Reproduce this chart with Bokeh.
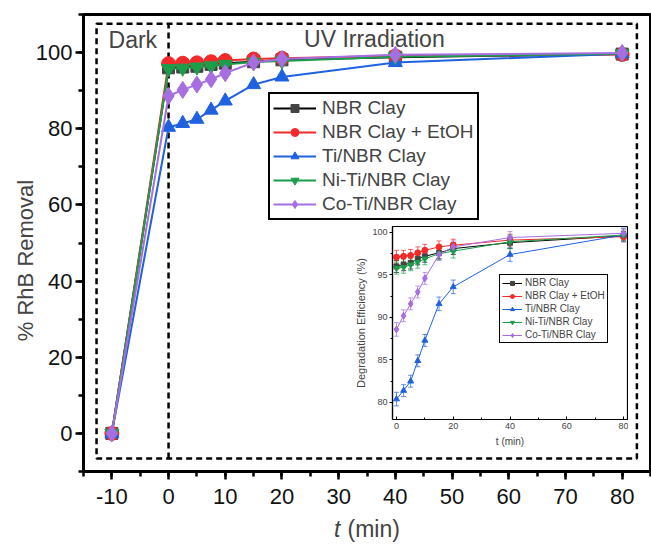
from bokeh.plotting import figure
from bokeh.models import (ColumnDataSource, Legend, LegendItem, Label, BoxAnnotation,
                          SingleIntervalTicker, Whisker, TeeHead, Range1d)
from bokeh.layouts import column
from bokeh.embed import file_html
from bokeh.resources import INLINE

# ---------------- data ----------------
t = [-10, 0, 2.5, 5, 7.5, 10, 15, 20, 40, 80]
series_names = ["NBR Clay", "NBR Clay + EtOH", "Ti/NBR Clay", "Ni-Ti/NBR Clay", "Co-Ti/NBR Clay"]
nbr_clay = [0, 96.0, 96.2, 96.4, 96.9, 97.2, 97.6, 98.1, 98.8, 99.6]
nbr_etoh = [0, 97.1, 97.2, 97.3, 97.6, 97.9, 98.3, 98.5, 99.1, 99.5]
ti_nbr = [0, 80.4, 81.4, 82.5, 84.9, 87.3, 91.6, 93.6, 97.4, 99.7]
niti_nbr = [0, 95.8, 95.9, 96.2, 96.5, 96.9, 97.5, 97.8, 98.9, 99.7]
coti_nbr = [0, 88.6, 90.2, 91.6, 93.0, 94.6, 97.4, 98.3, 99.4, 99.9]
# error bars (inset, t >= 0)
nbr_clay_err = [0.7, 0.7, 0.7, 0.7, 0.7, 0.7, 0.7, 0.7, 0.5]
nbr_etoh_err = [0.8, 0.7, 0.7, 0.7, 0.7, 0.7, 0.7, 0.7, 0.6]
ti_nbr_err = [0.8, 0.7, 0.7, 0.7, 0.7, 0.8, 0.8, 0.8, 0.8]
niti_nbr_err = [0.7, 0.7, 0.7, 0.7, 0.7, 0.7, 0.8, 0.8, 0.6]
coti_nbr_err = [0.8, 0.7, 0.7, 0.7, 0.7, 0.7, 0.7, 0.7, 0.6]

values = [nbr_clay, nbr_etoh, ti_nbr, niti_nbr, coti_nbr]
errors = [nbr_clay_err, nbr_etoh_err, ti_nbr_err, niti_nbr_err, coti_nbr_err]

colors = ["#000000", "#f42a2a", "#1f62e0", "#1b9e4b", "#a66ee0"]
fills = ["#444444", "#f42a2a", "#1f62e0", "#1b9e4b", "#a66ee0"]
markers = ["square", "circle", "triangle", "inverted_triangle", "diamond"]
msize = [12, 14, 14, 14, 17]
isize = [5, 6, 6, 6, 7]

FONT = "Liberation Sans"
LB, RB = 83, 1   # shared left/right borders (column aligns them)

# ---------------- main figure ----------------
p = figure(width=651, height=549, x_range=Range1d(-15, 85), y_range=Range1d(-10, 110),
           output_backend="svg", toolbar_location=None,
           min_border_left=LB, min_border_right=RB, min_border_top=14, min_border_bottom=78)
p.xgrid.visible = False
p.ygrid.visible = False
p.outline_line_color = "black"
p.outline_line_width = 3
p.outline_line_alpha = 1
p.xaxis.ticker = SingleIntervalTicker(interval=10, num_minor_ticks=2)
p.yaxis.ticker = SingleIntervalTicker(interval=20, num_minor_ticks=2)
p.xaxis.major_label_overrides = {-10: "-10"}
for ax in (p.xaxis[0], p.yaxis[0]):
    ax.axis_line_width = 3
    ax.major_tick_line_width = 2.5
    ax.minor_tick_line_width = 2.5
    ax.major_tick_in = 0
    ax.major_tick_out = 8
    ax.minor_tick_in = 0
    ax.minor_tick_out = 5
    ax.major_label_text_font = FONT
    ax.major_label_text_font_size = "22px"
    ax.major_label_text_color = "#111111"
p.yaxis.major_label_standoff = 3
p.xaxis.major_label_standoff = 9

# dashed boxes
p.add_layout(BoxAnnotation(left=-12.7, right=82.6, bottom=-6.6, top=107.6,
                           fill_alpha=0, line_color="black", line_width=2.5,
                           line_dash="6 4", line_alpha=1))
p.segment(x0=[0], y0=[-6.6], x1=[0], y1=[107.6], line_color="black",
          line_width=2.5, line_dash="6 4")

items = []
for name, vals, c, f, m, s in zip(series_names, values, colors, fills, markers, msize):
    src = ColumnDataSource(dict(x=t, y=vals))
    r1 = p.line("x", "y", source=src, line_color=c, line_width=2)
    r2 = p.scatter("x", "y", source=src, marker=m, size=s, fill_color=f, line_color=f)
    items.append(LegendItem(label=name, renderers=[r1, r2]))

leg = Legend(items=items, location=(185, 251), glyph_width=43, glyph_height=20,
             label_height=20, spacing=2, padding=3, margin=0, label_standoff=6,
             border_line_color="black", border_line_width=2, border_line_alpha=1,
             label_text_font=FONT, label_text_font_size="19px", background_fill_alpha=1)
p.add_layout(leg)

p.add_layout(Label(x=-6.3, y=103.2, text="Dark", text_font=FONT, text_font_size="23px",
                   text_align="center", text_baseline="middle"))
p.add_layout(Label(x=36.3, y=103.6, text="UV Irradiation", text_font=FONT,
                   text_font_size="23px", text_align="center", text_baseline="middle"))


def overlay(left, top, w, h):
    """Transparent figure whose frame covers the page box (left, top, w, h)."""
    f = figure(width=LB + w + RB, height=h, x_range=Range1d(0, w), y_range=Range1d(h, 0),
               output_backend="svg", toolbar_location=None,
               x_axis_location=None, y_axis_location=None,
               min_border_left=LB, min_border_right=RB, min_border_top=0, min_border_bottom=0)
    f.xgrid.visible = False
    f.ygrid.visible = False
    f.outline_line_color = None
    f.background_fill_alpha = 0
    f.border_fill_alpha = 0
    f.styles = {"position": "absolute", "left": f"{left - LB}px", "top": f"{top}px",
                "z-index": "20"}
    return f


# x axis title: italic "t" + " (min)"
xt = overlay(300, 510, 140, 36)
xt.add_layout(Label(x=40, y=18, text="t", text_font=FONT, text_font_size="23px",
                    text_font_style="italic", text_align="right", text_baseline="middle"))
xt.add_layout(Label(x=47, y=18, text="(min)", text_font=FONT, text_font_size="23px",
                    text_align="left", text_baseline="middle"))

# y axis title
yt = overlay(5, 140, 40, 240)
yt.add_layout(Label(x=20, y=120, text="% RhB Removal", text_font=FONT,
                    text_font_size="22px", angle=1.5708, text_align="center",
                    text_baseline="middle"))

# ---------------- inset ----------------
IW, IH = 235, 193          # inset frame size
inset = figure(width=LB + IW + RB, height=4 + IH + 33,
               x_range=Range1d(-1.4, 81.4), y_range=Range1d(78, 100.7),
               output_backend="svg", toolbar_location=None,
               min_border_left=LB, min_border_right=RB, min_border_top=4, min_border_bottom=33)
inset.xgrid.visible = False
inset.ygrid.visible = False
inset.outline_line_color = "black"
inset.outline_line_width = 1.2
inset.outline_line_alpha = 1
inset.background_fill_alpha = 0
inset.border_fill_alpha = 0
inset.xaxis.ticker = SingleIntervalTicker(interval=20, num_minor_ticks=2)
inset.yaxis.ticker = SingleIntervalTicker(interval=5, num_minor_ticks=2)
for ax in (inset.xaxis[0], inset.yaxis[0]):
    ax.axis_line_width = 1.2
    ax.major_tick_line_width = 1
    ax.minor_tick_line_width = 1
    ax.major_label_text_font = FONT
    ax.major_label_text_font_size = "9px"
    ax.axis_label_text_font = FONT
    ax.axis_label_text_font_style = "normal"
inset.xaxis.major_tick_in = 3
inset.xaxis.major_tick_out = 0
inset.xaxis.minor_tick_in = 2
inset.xaxis.minor_tick_out = 0
inset.yaxis.major_tick_in = 0
inset.yaxis.major_tick_out = 3
inset.yaxis.minor_tick_in = 0
inset.yaxis.minor_tick_out = 2
inset.xaxis.major_label_standoff = 3
inset.yaxis.major_label_standoff = 2
inset.xaxis.axis_label = "t (min)"
inset.yaxis.axis_label = "Degradation Efficiency (%)"
inset.xaxis.axis_label_text_font_size = "10px"
inset.yaxis.axis_label_text_font_size = "11px"
inset.xaxis.axis_label_standoff = 4
inset.yaxis.axis_label_standoff = 2

t_in = t[1:]
iitems = []
for name, vals, err, c, f, m, s in zip(series_names, values, errors, colors, fills, markers, isize):
    v = vals[1:]
    src = ColumnDataSource(dict(x=t_in, y=v,
                                lo=[a - b for a, b in zip(v, err)],
                                hi=[a + b for a, b in zip(v, err)]))
    inset.add_layout(Whisker(source=src, base="x", lower="lo", upper="hi",
                             line_color=c, line_width=1, line_alpha=0.7,
                             upper_head=TeeHead(size=5, line_color=c, line_alpha=0.7),
                             lower_head=TeeHead(size=5, line_color=c, line_alpha=0.7)))
    r1 = inset.line("x", "y", source=src, line_color=c, line_width=1)
    r2 = inset.scatter("x", "y", source=src, marker=m, size=s, fill_color=f, line_color=f)
    iitems.append(LegendItem(label=name, renderers=[r1, r2]))

ileg = Legend(items=iitems, location=(107, 76), glyph_width=20, glyph_height=10,
              label_height=10, spacing=2, padding=2, margin=0, label_standoff=3,
              border_line_color="black", border_line_width=1, border_line_alpha=1,
              label_text_font=FONT, label_text_font_size="10px")
inset.add_layout(ileg)

inset.styles = {"position": "absolute", "left": f"{392 - LB}px", "top": "222px", "z-index": "10"}
root = column(p, inset, xt, yt, styles={"position": "relative"}, spacing=0)

open("out.html", "w").write(file_html(root, INLINE))
